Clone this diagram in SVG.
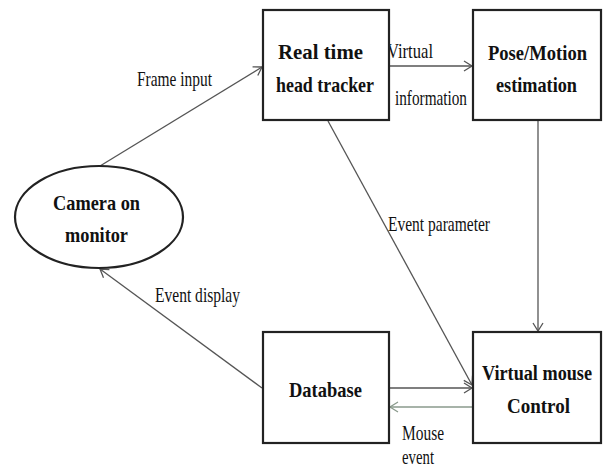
<svg xmlns="http://www.w3.org/2000/svg" width="603" height="471" viewBox="0 0 603 471">
<style>
.box{fill:#fff;stroke:#222;stroke-width:2.2}
.nt{font-family:"Liberation Serif",serif;font-weight:bold;font-size:21px;fill:#111;text-anchor:middle}
.lt{font-family:"Liberation Serif",serif;font-size:21px;fill:#111}
.c{fill:none;stroke:#555;stroke-width:1.3}
.g{fill:none;stroke:#8a9a8c;stroke-width:1.3}
</style>
<defs>
<marker id="a" markerWidth="12" markerHeight="12" refX="10" refY="6" orient="auto" markerUnits="userSpaceOnUse">
<path d="M2,1 L10,6 L2,11" fill="none" stroke="#555" stroke-width="1.3"/>
</marker>
<marker id="ag" markerWidth="12" markerHeight="12" refX="10" refY="6" orient="auto" markerUnits="userSpaceOnUse">
<path d="M2,1 L10,6 L2,11" fill="none" stroke="#8a9a8c" stroke-width="1.3"/>
</marker>
</defs>
<rect width="603" height="471" fill="#fff"/>
<g id="connectors">
<line class="c" x1="100" y1="166" x2="262" y2="67" marker-end="url(#a)"/>
<line class="c" x1="389" y1="66" x2="472" y2="66" marker-end="url(#a)"/>
<line class="c" x1="538" y1="121" x2="538" y2="331" marker-end="url(#a)"/>
<line class="c" x1="328" y1="121" x2="472" y2="385" marker-end="url(#a)"/>
<line class="c" x1="389" y1="388" x2="472" y2="388" marker-end="url(#a)"/>
<line class="g" x1="473" y1="407" x2="390" y2="407" marker-end="url(#ag)"/>
<line class="c" x1="262" y1="388" x2="100" y2="269" marker-end="url(#a)"/>
<text class="lt" x="137" y="86" textLength="75" lengthAdjust="spacingAndGlyphs">Frame input</text>
<text class="lt" x="387" y="58" textLength="46" lengthAdjust="spacingAndGlyphs">Virtual</text>
<text class="lt" x="395" y="105" textLength="72" lengthAdjust="spacingAndGlyphs">information</text>
<text class="lt" x="388" y="231" textLength="102" lengthAdjust="spacingAndGlyphs">Event parameter</text>
<text class="lt" x="155" y="302" textLength="85" lengthAdjust="spacingAndGlyphs">Event display</text>
<text class="lt" x="402" y="440" textLength="42" lengthAdjust="spacingAndGlyphs">Mouse</text>
<text class="lt" x="402" y="464" textLength="32" lengthAdjust="spacingAndGlyphs">event</text>
</g>
<g id="camera">
<ellipse class="box" cx="99" cy="217" rx="84" ry="51"/>
<text class="nt" x="96.5" y="210" textLength="87" lengthAdjust="spacingAndGlyphs">Camera on</text>
<text class="nt" x="96.5" y="242" textLength="63" lengthAdjust="spacingAndGlyphs">monitor</text>
</g>
<g id="tracker">
<rect class="box" x="263" y="10" width="126" height="110"/>
<text class="nt" x="320.5" y="59" textLength="85" lengthAdjust="spacingAndGlyphs">Real time</text>
<text class="nt" x="325" y="92" textLength="98" lengthAdjust="spacingAndGlyphs">head tracker</text>
</g>
<g id="pose">
<rect class="box" x="473" y="10" width="128" height="110"/>
<text class="nt" x="537.5" y="60" textLength="99" lengthAdjust="spacingAndGlyphs">Pose/Motion</text>
<text class="nt" x="536.5" y="92" textLength="81" lengthAdjust="spacingAndGlyphs">estimation</text>
</g>
<g id="database">
<rect class="box" x="263" y="332" width="126" height="111"/>
<text class="nt" x="325.5" y="397" textLength="73" lengthAdjust="spacingAndGlyphs">Database</text>
</g>
<g id="mouse">
<rect class="box" x="473" y="332" width="128" height="111"/>
<text class="nt" x="537" y="380" textLength="110" lengthAdjust="spacingAndGlyphs" style="font-size:20px">Virtual mouse</text>
<text class="nt" x="538.5" y="413" textLength="63" lengthAdjust="spacingAndGlyphs">Control</text>
</g>
</svg>
